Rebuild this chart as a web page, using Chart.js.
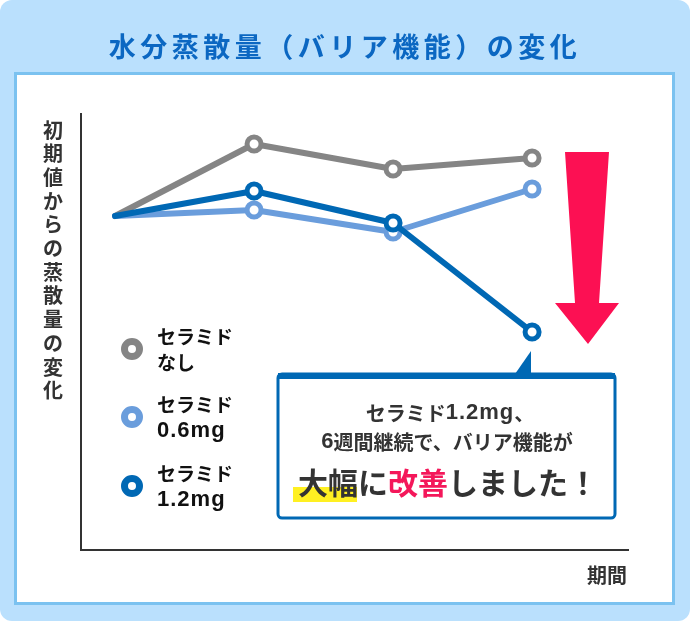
<!DOCTYPE html>
<html>
<head>
<meta charset="utf-8">
<script src="https://cdn.jsdelivr.net/npm/chart.js@4/dist/chart.umd.min.js"></script>
<style>
html, body { margin: 0; padding: 0; background: #fff; }
canvas { display: block; }
</style>
</head>
<body>
<canvas id="myChart" width="690" height="621"></canvas>
<script>
// data (change from initial value, arbitrary units)
const periods = [0, 1, 2, 3];
const seriesNames = [['セラミド', 'なし'], ['セラミド', '0.6mg'], ['セラミド', '1.2mg']];
const noCeramide = [0, 7.2, 4.7, 5.8];
const ceramide06 = [0, 0.6, -1.6, 2.7];
const ceramide12 = [0, 2.5, -0.7, -11.6];
const seriesColors = ['#858585', '#6a9ddc', '#0068b4'];

const title = '水分蒸散量（バリア機能）の変化';
const yTitle = '初期値からの蒸散量の変化';
const xTitle = '期間';

const jp = '"Noto Sans CJK JP", "Noto Sans", sans-serif';
const latin = 'bold 22px "Liberation Sans", sans-serif';

function roundRect(ctx, x, y, w, h, r) {
    ctx.beginPath();
    ctx.moveTo(x + r, y);
    ctx.arcTo(x + w, y, x + w, y + h, r);
    ctx.arcTo(x + w, y + h, x, y + h, r);
    ctx.arcTo(x, y + h, x, y, r);
    ctx.arcTo(x, y, x + w, y, r);
    ctx.closePath();
}

// draw a line made of pieces with own font/colour; align 'left' or 'center'
function drawPieces(ctx, pieces, x, y, align) {
    ctx.save();
    ctx.textAlign = 'left';
    const widths = pieces.map(p => {
        ctx.font = p.font;
        ctx.letterSpacing = p.ls || '0px';
        return ctx.measureText(p.text).width;
    });
    const total = widths.reduce((a, b) => a + b, 0);
    let cx = align === 'center' ? x - total / 2 : x;
    pieces.forEach((p, i) => {
        ctx.font = p.font;
        ctx.letterSpacing = p.ls || '0px';
        if (p.mark) {
            ctx.fillStyle = p.mark;
            ctx.fillRect(cx - 5, y + 4, widths[i] + 4, 15);
        }
        ctx.fillStyle = p.color;
        ctx.fillText(p.text, cx, y);
        cx += widths[i];
    });
    ctx.restore();
}

function isLatin(s) { return /^[0-9.a-z]+$/.test(s); }

const decor = {
    id: 'decor',
    beforeDraw(chart) {
        const ctx = chart.ctx;
        ctx.save();
        // light blue frame
        roundRect(ctx, 0, 0, 690, 621, 12);
        ctx.fillStyle = '#bae0fd';
        ctx.fill();
        // white panel
        ctx.fillStyle = '#7bc2f0';
        ctx.fillRect(14, 72, 661, 533);
        ctx.fillStyle = '#fff';
        ctx.fillRect(17, 75, 655, 527);
        // title
        ctx.fillStyle = '#0b67c2';
        ctx.font = 'bold 27px ' + jp;
        ctx.letterSpacing = '4.5px';
        ctx.textAlign = 'center';
        ctx.textBaseline = 'middle';
        ctx.fillText(title, 345, 47);
        ctx.restore();
    },
    afterDraw(chart) {
        const ctx = chart.ctx;
        ctx.save();
        ctx.textBaseline = 'middle';
        ctx.textAlign = 'center';

        // vertical y title
        ctx.fillStyle = '#333';
        ctx.font = 'bold 20px ' + jp;
        [...yTitle].forEach((ch, i) => ctx.fillText(ch, 53, 130 + i * 23.7));

        // x title
        ctx.fillText(xTitle, 607, 575);

        // legend
        const legendY = [349, 417, 486];
        const kana = 'bold 19px ' + jp;
        seriesNames.forEach((lines, i) => {
            ctx.beginPath();
            ctx.arc(132, legendY[i], 7.5, 0, Math.PI * 2);
            ctx.fillStyle = '#fff';
            ctx.fill();
            ctx.lineWidth = 7;
            ctx.strokeStyle = seriesColors[i];
            ctx.stroke();
            drawPieces(ctx, [{ text: lines[0], font: kana, color: '#111' }], 157, legendY[i] - 12, 'left');
            const second = isLatin(lines[1])
                ? { text: lines[1], font: latin, ls: '1px', color: '#111' }
                : { text: lines[1], font: kana, color: '#111' };
            drawPieces(ctx, [second], 157, legendY[i] + 14, 'left');
        });

        // callout box
        roundRect(ctx, 278, 374, 337, 144, 4);
        ctx.fillStyle = '#fff';
        ctx.fill();
        ctx.lineWidth = 3;
        ctx.strokeStyle = '#0068b4';
        ctx.stroke();
        ctx.fillStyle = '#0068b4';
        ctx.fillRect(278, 373, 337, 6);
        ctx.beginPath();
        ctx.moveTo(515, 374);
        ctx.lineTo(531, 374);
        ctx.lineTo(531, 351);
        ctx.closePath();
        ctx.fill();

        const body = 'bold 20px ' + jp;
        drawPieces(ctx, [
            { text: 'セラミド', font: body, color: '#333' },
            { text: '1.2mg', font: latin, ls: '1px', color: '#333' },
            { text: '、', font: body, color: '#333' },
        ], 450, 413, 'center');
        drawPieces(ctx, [
            { text: '6', font: latin, color: '#333' },
            { text: '週間継続で、バリア機能が', font: body, color: '#333' },
        ], 447, 442, 'center');

        const big = 'bold 30px ' + jp;
        drawPieces(ctx, [
            { text: '大幅', font: big, color: '#333', mark: '#fff022' },
            { text: 'に', font: big, color: '#333' },
            { text: '改善', font: big, color: '#f4175a' },
            { text: 'しました！', font: big, color: '#333' },
        ], 448, 483, 'center');

        // big arrow
        ctx.beginPath();
        ctx.moveTo(565, 152);
        ctx.lineTo(609, 152);
        ctx.lineTo(599, 303);
        ctx.lineTo(619, 303);
        ctx.lineTo(588, 344);
        ctx.lineTo(555, 303);
        ctx.lineTo(575, 303);
        ctx.closePath();
        ctx.fillStyle = '#fc1053';
        ctx.fill();
        ctx.restore();
    }
};

function makeSet(values, color, order) {
    return {
        data: periods.map((p, i) => ({ x: p, y: values[i] })),
        borderColor: color,
        borderWidth: 6,
        borderCapStyle: 'round',
        borderJoinStyle: 'round',
        pointRadius: [0, 7, 7, 7],
        pointHoverRadius: [0, 7, 7, 7],
        pointBorderWidth: 5,
        pointBorderColor: color,
        pointBackgroundColor: '#fff',
        tension: 0,
        fill: false,
        order: order,
    };
}

let myChart = document.getElementById('myChart').getContext('2d');
let waterChart = new Chart(myChart, {
    type: 'line',
    data: {
        datasets: [
            makeSet(noCeramide, seriesColors[0], 3),
            makeSet(ceramide06, seriesColors[1], 2),
            makeSet(ceramide12, seriesColors[2], 1),
        ]
    },
    options: {
        responsive: false,
        animation: false,
        events: [],
        layout: {
            padding: { left: 81, right: 62, top: 114, bottom: 71 }
        },
        plugins: {
            legend: { display: false },
            tooltip: { enabled: false },
        },
        scales: {
            x: {
                type: 'linear',
                min: -0.245,
                max: 3.69,
                grid: { display: false, drawTicks: false },
                ticks: { display: false },
                border: { color: '#333', width: 2 },
                afterFit: (s) => { s.height = 0; },
            },
            y: {
                type: 'linear',
                min: -33.4,
                max: 10.2,
                grid: { display: false, drawTicks: false },
                ticks: { display: false },
                border: { color: '#333', width: 2 },
                afterFit: (s) => { s.width = 0; },
            },
        }
    },
    plugins: [decor]
});
</script>
</body>
</html>
